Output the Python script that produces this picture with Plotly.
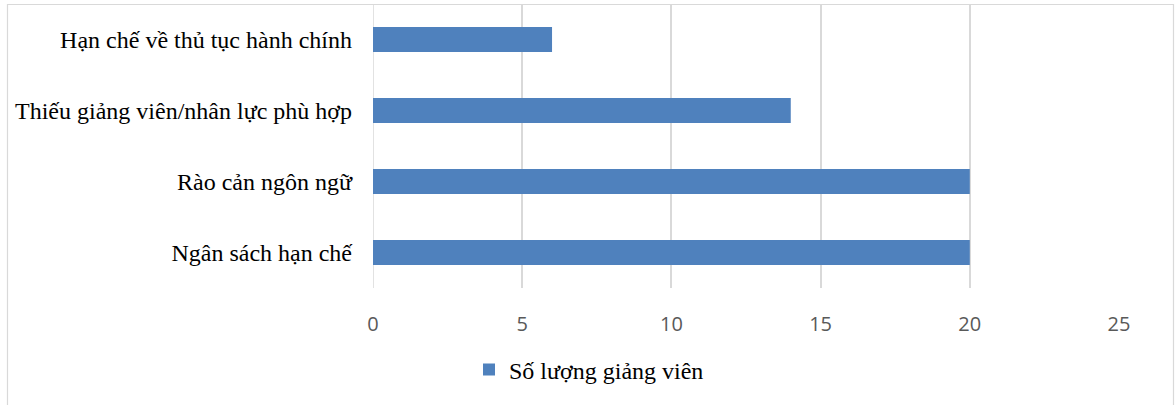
import plotly.graph_objects as go

categories = ["Ngân sách hạn chế", "Rào cản ngôn ngữ",
              "Thiếu giảng viên/nhân lực phù hợp", "Hạn chế về thủ tục hành chính"]
values = [20, 20, 14, 6]
series_name = "Số lượng giảng viên"
x_ticks = [0, 5, 10, 15, 20, 25]

W, H = 1175, 405
L, R, T, B = 373, 1119, 4, 288

fig = go.Figure()
fig.add_trace(go.Bar(
    y=categories, x=values, orientation="h", name=series_name,
    marker=dict(color="#4f81bd", line=dict(width=0)), width=0.352,
    showlegend=True,
))

def px2x(p):
    return (p - L) / (R - L)

def py2y(p):
    return (B - p) / (B - T)

fig.add_shape(type="rect", xref="paper", yref="paper",
              x0=px2x(7.5), x1=px2x(1173.5), y0=py2y(420), y1=py2y(4.5),
              line=dict(color="#d9d9d9", width=1.2), fillcolor="rgba(0,0,0,0)",
              layer="below")

fig.update_layout(
    width=W, height=H,
    margin=dict(l=L, r=W - R, t=T, b=H - B, pad=0),
    paper_bgcolor="white", plot_bgcolor="white",
    xaxis=dict(range=[0, 25], tickvals=x_ticks, showgrid=True,
               gridcolor="#d9d9d9", gridwidth=1.5, zeroline=False,
               showline=False, ticks="", ticklabelstandoff=22,
               tickfont=dict(family="Open Sans, Liberation Sans, sans-serif", size=20, color="#595959"),
               fixedrange=True),
    yaxis=dict(showgrid=False, zeroline=False, showline=False, ticks="",
               ticklabelstandoff=20,
               tickfont=dict(family="Liberation Serif, Times New Roman, serif", size=24, color="#000000"),
               fixedrange=True),
    legend=dict(orientation="h", x=px2x(589), xanchor="center",
                y=py2y(370), yanchor="middle",
                font=dict(family="Liberation Serif, Times New Roman, serif", size=24, color="#000000"),
                itemwidth=30),
)
fig.add_vline(x=0, line=dict(color="#d9d9d9", width=1.5), layer="below")

fig.write_html("out.html", config={"displayModeBar": False},
               post_script="document.body.style.margin='0';")
